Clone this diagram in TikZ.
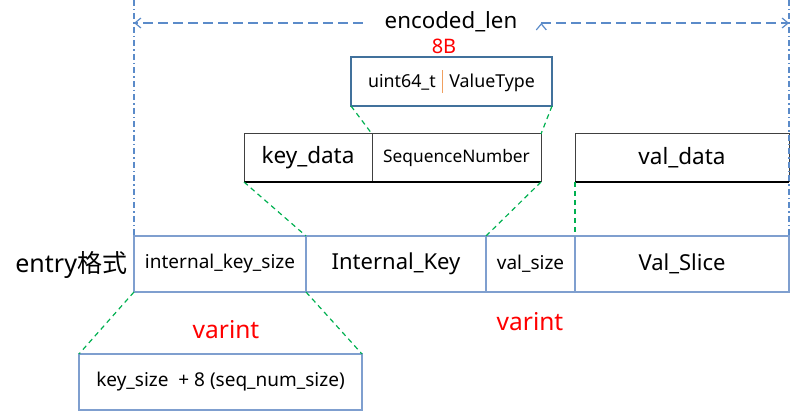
\documentclass[tikz,border=0pt]{standalone}
\usepackage{fontspec}
\setmainfont{Noto Sans}
\newfontfamily\cjk{Noto Sans CJK SC}
\usetikzlibrary{positioning, arrows.meta}
\definecolor{rowblue}{HTML}{7F9FCF}
\definecolor{topblue}{HTML}{41719C}
\definecolor{lineblue}{HTML}{5B8BC9}
\definecolor{linkgreen}{HTML}{00B050}
\definecolor{sepor}{HTML}{F0A060}
\newcommand{\fsz}[1]{\fontsize{#1}{#1}\selectfont}

\begin{document}
\begin{tikzpicture}[x=1pt,y=-1pt,inner sep=0pt,outer sep=0pt,
  cell/.style={draw=rowblue,line width=1.2pt,minimum height=56pt,anchor=north west},
  seg/.style={draw=black!75,line width=1pt,minimum height=48pt,anchor=north west},
  lnk/.style={draw=linkgreen,line width=1.2pt,dash pattern=on 5pt off 4pt},
  bound/.style={draw=lineblue,line width=1.2pt,dash pattern=on 6pt off 3pt on 1.5pt off 3pt},
  dim/.style={draw=lineblue,line width=1.2pt,dash pattern=on 10pt off 5pt,-{Straight Barb[length=6pt,width=10pt]}},
  red/.style={text=red,font=\fsz{24.5}}]
\useasboundingbox (0,0) rectangle (799,411);
% entry row
\node[cell,minimum width=172pt,font=\fsz{19}] (iks) at (134,236) {internal\_key\_size};
\node[cell,minimum width=180pt,font=\fsz{22}] (ik) [right=0pt of iks] {Internal\_Key};
\node[cell,minimum width=89pt,font=\fsz{19}] (vs) [right=0pt of ik] {val\_size};
\node[cell,minimum width=214pt,font=\fsz{22}] (vsl) [right=0pt of vs] {Val\_Slice};
\node[font=\fsz{25},anchor=east] (lbl) at (127,265) {entry{\cjk 格式}};
% key / value parts
\node[seg,minimum width=128pt,font=\fsz{22.5}] (kd) at (244,134) {key\_data};
\node[seg,minimum width=169pt,font=\fsz{17.3}] (sn) [right=0pt of kd] {SequenceNumber};
\node[seg,minimum width=214pt,font=\fsz{22.5}] (vd) at (575,134) {val\_data};
\draw[line width=2.5pt] (kd.south west) -- (sn.south east);
\draw[line width=2.5pt] (vd.south west) -- (vd.south east);
% sequence number layout
\node[draw=topblue,line width=1.2pt,minimum width=201pt,minimum height=49pt,anchor=north west,font=\fsz{17.8}] (tb) at (351,57)
  {uint64\_t\hspace{6pt}\textcolor{sepor}{\rule[-5pt]{1.6pt}{23pt}}\hspace{6pt}ValueType};
\node[red,font=\fsz{20}] (b8) at (444,46) {8B};
% size of key
\node[draw=rowblue,line width=1.2pt,minimum width=283pt,minimum height=56pt,anchor=north west,font=\fsz{19}] (bb) at (79,354)
  {key\_size~ + 8 (seq\_num\_size)};
\node[red] (v1) at (226,330) {varint};
\node[red] (v2) at (530,322) {varint};
% encoded length
\coordinate (tl) at (134,0);
\coordinate (tr) at (789,0);
\coordinate (al) at (134,23);
\coordinate (ar) at (789,23);
\node[font=\fsz{22.3}] (el) at (451,22) {encoded\_len};
\path[bound] (tl) edge (iks.north west)
             (tr) edge (vsl.north east);
\path[dim] (el.west) ++(-22,1) edge (al)
           (el.east) ++(24,1) edge (ar);

\path[lnk]
(kd.south west) edge (ik.north west)
(sn.south east) edge (ik.north east)
(vd.south west) edge (vsl.north west)
(tb.south west) edge (sn.north west)
(tb.south east) edge (sn.north east)
(iks.south west) edge (bb.north west)
(iks.south east) edge (bb.north east);
\end{tikzpicture}
\end{document}
